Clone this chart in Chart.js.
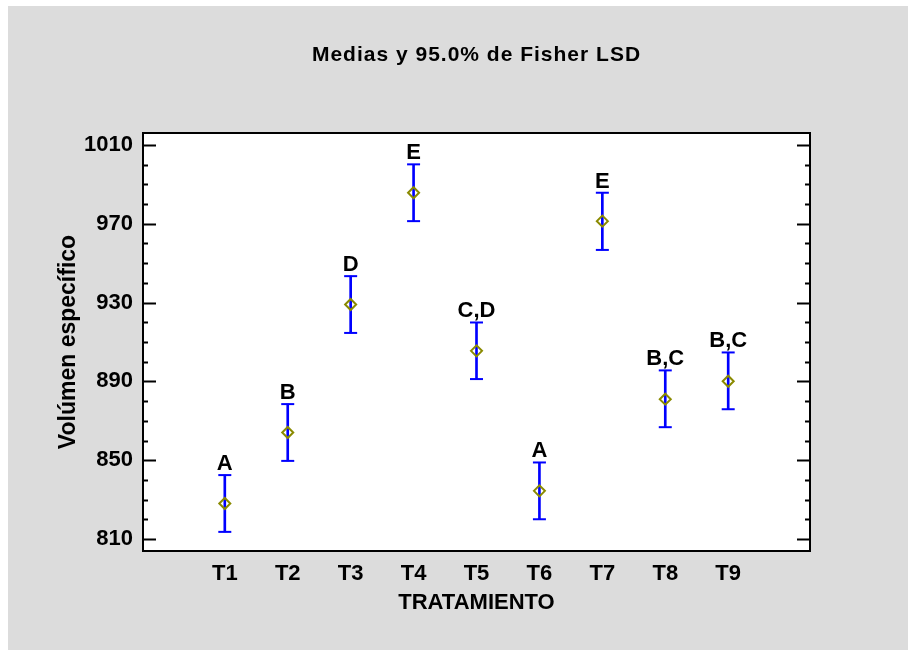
<!DOCTYPE html>
<html>
<head>
<meta charset="utf-8">
<title>Medias y 95.0% de Fisher LSD</title>
<script src="https://cdn.jsdelivr.net/npm/chart.js@4.4.0/dist/chart.umd.min.js"></script>
<style>
  body { margin: 0; background: #ffffff; }
  #wrap { position: absolute; left: 8px; top: 6px; }
</style>
</head>
<body>
<div id="wrap"><canvas id="lsdChart" width="900" height="644"></canvas></div>
<script>
const labels = ["T1", "T2", "T3", "T4", "T5", "T6", "T7", "T8", "T9"];
const means = [828.1, 864.1, 929.0, 985.7, 905.5, 834.5, 971.3, 881.0, 890.1];
const lower = [813.7, 849.7, 914.6, 971.3, 891.2, 820.1, 956.7, 866.8, 875.9];
const upper = [842.5, 878.5, 943.4, 1000.1, 919.9, 848.9, 985.7, 895.6, 904.7];
const groups = ["A", "B", "D", "E", "C,D", "A", "E", "B,C", "B,C"];
const yTicks = [810, 850, 890, 930, 970, 1010];

const FONT = "'Liberation Sans', Arial, sans-serif";
const BLUE = "#0000ff";
const OLIVE = "#8a8a00";

// grey page, white plot area
const backgroundPlugin = {
  id: "background",
  beforeDraw(chart) {
    const { ctx, chartArea: a } = chart;
    ctx.save();
    ctx.fillStyle = "#dcdcdc";
    ctx.fillRect(0, 0, chart.width, chart.height);
    ctx.fillStyle = "#ffffff";
    ctx.fillRect(a.left, a.top, a.right - a.left, a.bottom - a.top);
    ctx.restore();
  },
};

// frame, inward ticks on both sides, group letters and title
const framePlugin = {
  id: "frame",
  afterDatasetsDraw(chart) {
    const { ctx, chartArea: a } = chart;
    const x = chart.scales.x;
    const y = chart.scales.y;
    ctx.save();

    ctx.strokeStyle = "#000";
    ctx.lineWidth = 2;
    ctx.strokeRect(a.left, a.top, a.right - a.left, a.bottom - a.top);

    for (let v = yTicks[0]; v <= yTicks[yTicks.length - 1]; v += 10) {
      const py = Math.round(y.getPixelForValue(v)) + 0.5;
      const len = yTicks.includes(v) ? 13 : 5;
      ctx.beginPath();
      ctx.moveTo(a.left, py);
      ctx.lineTo(a.left + len, py);
      ctx.moveTo(a.right, py);
      ctx.lineTo(a.right - len, py);
      ctx.stroke();
    }

    ctx.fillStyle = "#000";
    ctx.font = "bold 22px " + FONT;
    ctx.textAlign = "center";
    ctx.textBaseline = "alphabetic";
    groups.forEach((g, i) => {
      ctx.fillText(g, x.getPixelForValue(i + 1), y.getPixelForValue(upper[i]) - 5);
    });

    ctx.font = "bold 21px " + FONT;
    ctx.letterSpacing = "1px";
    ctx.fillText("Medias y 95.0% de Fisher LSD", (a.left + a.right) / 2, 55);
    ctx.restore();
  },
};

const ctx = document.getElementById("lsdChart").getContext("2d");

new Chart(ctx, {
  type: "scatter",
  data: {
    datasets: [
      {
        // interval stems
        type: "bar",
        data: labels.map((l, i) => ({ x: i + 1, y: [lower[i], upper[i]] })),
        backgroundColor: BLUE,
        barThickness: 2,
        order: 3,
      },
      {
        data: labels.map((l, i) => ({ x: i + 1, y: lower[i] })),
        pointStyle: "line",
        radius: 6.5,
        borderColor: BLUE,
        borderWidth: 2,
        order: 2,
      },
      {
        data: labels.map((l, i) => ({ x: i + 1, y: upper[i] })),
        pointStyle: "line",
        radius: 6.5,
        borderColor: BLUE,
        borderWidth: 2,
        order: 2,
      },
      {
        data: labels.map((l, i) => ({ x: i + 1, y: means[i] })),
        pointStyle: "rectRot",
        radius: 5.5,
        borderColor: OLIVE,
        backgroundColor: "rgba(0,0,0,0)",
        borderWidth: 2,
        order: 0,
      },
    ],
  },
  options: {
    responsive: false,
    animation: false,
    events: [],
    layout: { padding: { left: 0, right: 98, top: 127, bottom: 0 } },
    plugins: {
      legend: { display: false },
      tooltip: { enabled: false },
    },
    scales: {
      x: {
        type: "linear",
        min: -0.3,
        max: 10.3,
        offset: false,
        afterBuildTicks: (s) => {
          s.ticks = labels.map((l, i) => ({ value: i + 1 }));
        },
        afterFit: (s) => {
          s.height = 99;
        },
        ticks: {
          callback: (v) => labels[v - 1],
          font: { family: FONT, size: 22, weight: "bold" },
          color: "#000",
          padding: 10,
          maxRotation: 0,
          autoSkip: false,
        },
        grid: { display: false, drawTicks: false },
        border: { display: false },
        title: {
          display: true,
          text: "TRATAMIENTO",
          color: "#000",
          font: { family: FONT, size: 22, weight: "bold" },
          padding: { top: 0, bottom: 34 },
        },
      },
      y: {
        min: 804,
        max: 1016,
        afterBuildTicks: (s) => {
          s.ticks = yTicks.map((v) => ({ value: v }));
        },
        afterFit: (s) => {
          s.width = 135;
        },
        ticks: {
          callback: (v) => String(v),
          font: { family: FONT, size: 22, weight: "bold" },
          color: "#000",
          padding: 10,
        },
        grid: { display: false, drawTicks: false },
        border: { display: false },
        title: {
          display: true,
          text: "Volúmen específico",
          color: "#000",
          font: { family: FONT, size: 23, weight: "bold" },
          padding: { top: 47, bottom: 0 },
        },
      },
    },
  },
  plugins: [backgroundPlugin, framePlugin],
});
</script>
</body>
</html>
